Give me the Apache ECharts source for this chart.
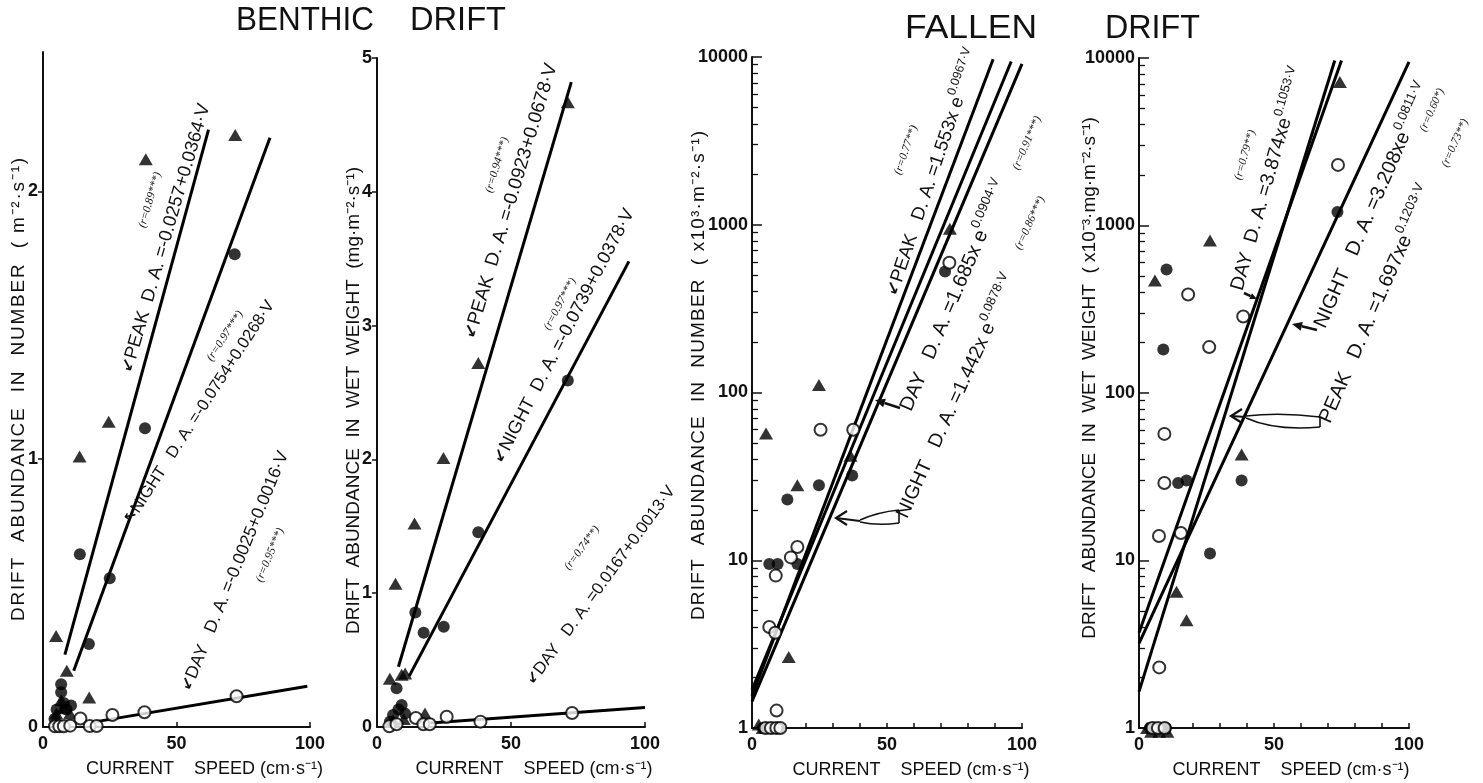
<!DOCTYPE html>
<html><head><meta charset="utf-8"><title>Benthic and fallen drift vs current speed</title>
<script src="https://cdn.jsdelivr.net/npm/echarts@6/dist/echarts.min.js"></script>
<style>html,body{margin:0;padding:0;background:#fff}#chart{width:1483px;height:783px}</style>
</head><body><div id="chart"></div>
<script>
// ================= DATA =================
const speedTicks = [0, 50, 100];
const numTicks = [0, 1, 2];
const wtTicks = [0, 1, 2, 3, 4, 5];
const logTicks = [1, 10, 100, 1000, 10000];

// Panel 1 - benthic drift, abundance in number (m-2 s-1); [speed, abundance]
const bnPeak  = [[38.5,2.12],[72,2.21],[24.6,1.14],[13.7,1.01],[4.9,0.34],[8.9,0.21],[17.3,0.11],[6.8,0.10],[5.0,0.05],[10.1,0.05],[7.5,0.07]];
const bnNight = [[71.8,1.765],[38.2,1.115],[13.8,0.645],[25.0,0.555],[17.2,0.31],[6.8,0.16],[6.8,0.13],[5.1,0.065],[8.8,0.065],[10.5,0.08],[4.3,0.03],[7.8,0.09]];
const bnDay   = [[72.5,0.115],[38,0.055],[26,0.045],[14,0.032],[17.5,0.004],[20.1,0.004],[4.5,0.003],[6.1,0.003],[7.8,0.003],[10.2,0.005]];
const bnPeakFit  = [[8.2,0.27],[62,2.23]];
const bnNightFit = [[11.5,0.21],[85,2.20]];
const bnDayFit   = [[20,0.02],[99,0.152]];

// Panel 2 - benthic drift, abundance in wet weight (mg m-2 s-1)
const bwPeak  = [[71.2,4.67],[37.8,2.72],[24.8,2.01],[14,1.52],[6.9,1.07],[4.8,0.36],[9.2,0.39],[10.5,0.40],[17.9,0.10],[10,0.06],[6,0.05]];
const bwNight = [[71.2,2.59],[37.8,1.455],[24.9,0.75],[14.3,0.855],[17.4,0.705],[7.3,0.29],[9.2,0.164],[8.0,0.13],[6.0,0.09],[4.8,0.04],[10.5,0.1]];
const bwDay   = [[72.8,0.105],[38.6,0.04],[26,0.077],[14.5,0.067],[17.3,0.02],[19.7,0.02],[4.6,0.005],[7.3,0.02]];
const bwPeakFit  = [[8,0.45],[72.5,4.82]];
const bwNightFit = [[12,0.38],[94,3.48]];
const bwDayFit   = [[20,0.03],[100,0.145]];

// Panel 3 - fallen drift, abundance in number (x10^3 m-2 s-1), log scale
const fnPeak  = [[73.3,946],[24.8,111],[36.5,42],[16.8,28],[5.2,57],[13.6,2.65],[2.5,1.05],[4,1.0],[5.5,1.0],[7,1.0]];
const fnNight = [[71.5,527],[37.1,32],[24.8,28],[13.1,23],[16.8,9.5],[6.4,9.5],[9.5,9.5],[4,1.0],[6,1.0],[8,1.0],[10,1.0]];
const fnDay   = [[73.1,594],[37.5,60],[25.4,60],[16.8,12],[14.4,10.4],[8.8,8.1],[6.4,4.0],[8.6,3.7],[9.1,1.27],[5,1.0],[7,1.0],[9,1.0],[10.5,1.0]];
const fnPeakFit  = [[0,1.55],[89.3,9700]];
const fnDayFit   = [[0,1.69],[96,9400]];
const fnNightFit = [[0,1.44],[100,9100]];

// Panel 4 - fallen drift, abundance in wet weight (x10^-3 mg m-2 s-1), log scale
const fwPeak  = [[74.4,7190],[26.3,813],[5.9,470],[38,43],[13.9,6.5],[17.6,4.4],[3,1.0],[4.5,0.95],[6,1.0],[7.5,0.95],[9,1.0],[10.5,0.95]];
const fwNight = [[73.5,1205],[10.2,546],[9.0,182],[14.5,29],[17.6,30],[26.3,11],[38,30],[4,1.0],[6,1.0],[8.5,1.0],[10,1.0]];
const fwDay   = [[73.7,2300],[38.6,286],[18.2,387],[26,188],[9.4,57],[9.4,29],[7.4,14],[15.5,14.6],[7.5,2.3],[5,1.0],[7,1.0],[9.5,1.0]];
const fwPeakFit  = [[0,1.65],[72.5,9660]];
const fwDayFit   = [[0,3.7],[75,9660]];
const fwNightFit = [[0,3.2],[100,9470]];

// ================= TEXT =================
const titles = ['BENTHIC', 'DRIFT', 'FALLEN', 'DRIFT'];
const xName = 'CURRENT    SPEED (cm·s⁻¹)';
const yNames = [
  'DRIFT  ABUNDANCE  IN  NUMBER  ( m⁻²·s⁻¹)',
  'DRIFT  ABUNDANCE  IN  WET  WEIGHT  (mg·m⁻²·s⁻¹)',
  'DRIFT  ABUNDANCE  IN  NUMBER  ( x10³·m⁻²·s⁻¹)',
  'DRIFT  ABUNDANCE  IN  WET  WEIGHT  ( x10⁻³·mg·m⁻²·s⁻¹)'
];
const yNameSpacing = [1.8, 0, 1.2, 0];   // extra px between letters
const yNameShift = [0, -8, 17, 15];      // px along the axis (positive = up)
const yNameGap = [15, 14, 44, 40];

// ================= LAYOUT / STYLE =================
const FONT = "'Liberation Sans', Arial, sans-serif";
const EQFONT = "'Liberation Sans', Arial, sans-serif";
const RFONT = "'Liberation Serif', 'Times New Roman', serif";
const ARROWFONT = "'DejaVu Sans', sans-serif";
const BLACK = '#111';

const grids = [
  {left:43,  top:52, width:267, height:675},
  {left:377, top:58, width:268, height:669},
  {left:752, top:57, width:270, height:671},
  {left:1139,top:58, width:270, height:670}
].map(g => Object.assign({outerBoundsMode:'none', containLabel:false}, g));

function spacedRich(t){ return Array.from(t).map(ch => '{c|' + ch + '}').join(''); }

const xShift = [28, 23, 24, 17];
function xAx(k, every10){
  return {type:'value', gridIndex:k, min:0, max:100, interval: every10 ? 10 : 50,
    axisLine:{show:true, onZero:false, lineStyle:{color:BLACK, width:2}},
    axisTick: every10 ? {show:true, inside:true, length:5, lineStyle:{color:BLACK, width:1.5}}
                      : {show:true, inside:true, length:5, customValues:[50,100], lineStyle:{color:BLACK, width:1.5}},
    axisLabel:{show:true, customValues:speedTicks, formatter:v => speedTicks.indexOf(v) >= 0 ? String(v) : '',
      color:BLACK, fontSize:18, fontWeight:'bold', fontFamily:FONT, margin:8},
    splitLine:{show:false},
    name:xName, nameLocation:'middle', nameGap:33, nameMoveOverlap:false,
    nameTextStyle:{color:BLACK, fontSize:18, fontFamily:FONT, padding:[0,0,0,xShift[k]*2]}
  };
}
function namePad(shift){ return shift >= 0 ? [0,0,0,2*shift] : [0,-2*shift,0,0]; }
function yName(k){
  const sp = yNameSpacing[k];
  return {
    name: sp > 0 ? spacedRich(yNames[k]) : yNames[k],
    nameLocation:'middle', nameRotate:90, nameGap:yNameGap[k], nameMoveOverlap:false,
    nameTextStyle:{color:BLACK, fontSize:19, fontFamily:FONT, padding:namePad(yNameShift[k]),
      rich:{c:{color:BLACK, fontSize:19, fontFamily:FONT, padding:[0, sp/2, 0, sp/2]}}}
  };
}
function yLin(k, max, ticks){
  return Object.assign({type:'value', gridIndex:k, min:0, max:max, interval:1,
    axisLine:{show:true, onZero:false, lineStyle:{color:BLACK, width:2}},
    axisTick:{show:true, inside:false, length:5, customValues:ticks.filter(t => t > 0), lineStyle:{color:BLACK, width:1.5}},
    axisLabel:{show:true, customValues:ticks, formatter:v => ticks.indexOf(v) >= 0 ? String(v) : '',
      color:BLACK, fontSize:18, fontWeight:'bold', fontFamily:FONT, margin:5},
    splitLine:{show:false}}, yName(k));
}
function yLog(k){
  return Object.assign({type:'log', logBase:10, gridIndex:k, min:1, max:10000,
    axisLine:{show:true, onZero:false, lineStyle:{color:BLACK, width:2}},
    axisTick:{show:true, inside:true, length:10, lineStyle:{color:BLACK, width:1.5}},
    minorTick:{show:true, splitNumber:9, length:6, lineStyle:{color:BLACK, width:1.3}},
    axisLabel:{show:true, formatter:v => logTicks.indexOf(Math.round(v)) >= 0 ? String(Math.round(v)) : '',
      color:BLACK, fontSize:18, fontWeight:'bold', fontFamily:FONT, margin:4},
    splitLine:{show:false}}, yName(k));
}

const TRI  = {symbol:'triangle', symbolSize:[14,12], itemStyle:{color:'#000'}};
const DOT  = {symbol:'circle', symbolSize:12, itemStyle:{color:'#000'}};
const RING = {symbol:'circle', symbolSize:12, itemStyle:{color:'#fff', borderColor:'#000', borderWidth:2}};
function sc(name, data, k, st){
  return Object.assign({type:'scatter', name:name, data:data, xAxisIndex:k, yAxisIndex:k, clip:false, z:5, silent:true}, st);
}
function fit(name, data, k){
  return {type:'line', name:name, data:data, xAxisIndex:k, yAxisIndex:k, symbol:'none', clip:false, z:3, silent:true,
    lineStyle:{color:'#000', width:3}};
}

// ---- text measurement helper
const ctx = document.createElement('canvas').getContext('2d');
function meas(t, fam, w, st){ ctx.font = (st||'normal') + ' ' + (w||'normal') + ' 100px ' + fam; return ctx.measureText(t).width / 100; }

// ---- annotations (pixel layout): start p, end q
const eqs = [
  {p:[127,372], q:[205,104], arrow:'↙', main:'PEAK  D. A. =-0.0257+0.0364·V', r:'(r=0.89***)', rp:[150,200]},
  {p:[128,522], q:[271,302], arrow:'↖', main:'NIGHT   D. A. =-0.0754+0.0268·V', r:'(r=0.97***)', rp:[225,336]},
  {p:[186,690], q:[284,452], arrow:'↙', main:'DAY   D. A. =-0.0025+0.0016·V', r:'(r=0.95***)', rp:[270,555]},
  {p:[470,338], q:[552,64],  arrow:'↙', main:'PEAK  D. A. =-0.0923+0.0678·V', r:'(r=0.94***)', rp:[497,165]},
  {p:[498,462], q:[630,210], arrow:'↙', main:'NIGHT  D. A. =-0.0739+0.0378·V', r:'(r=0.97***)', rp:[560,304]},
  {p:[530,683], q:[672,488], arrow:'↙', main:'DAY   D. A. =0.0167+0.0013·V', r:'(r=0.74**)', rp:[582,548]},
  {p:[892,295], q:[975,50],  arrow:'↙', main:'PEAK   D. A. =1.553x e', sup:'0.0967·V', r:'(r=0.77**)', rp:[906,150]},
  {p:[906,410], q:[1008,172], main:'DAY   D. A. =1.685x e', sup:'0.0904·V', r:'(r=0.91***)', rp:[1027,143]},
  {p:[902,517], q:[1012,276], main:'NIGHT   D. A. =1.442x e', sup:'0.0878·V', r:'(r=0.86***)', rp:[1030,223]},
  {p:[1237,290], q:[1300,68], main:'DAY  D. A. =3.874xe', sup:'0.1053·V', r:'(r=0.79**)', rp:[1245,155]},
  {p:[1320,327], q:[1427,83], main:'NIGHT   D. A. =3.208xe', sup:'0.0811·V', r:'(r=0.60*)', rp:[1432,110]},
  {p:[1325,422], q:[1430,183], main:'PEAK   D. A. =1.697xe', sup:'0.1203·V', r:'(r=0.73**)', rp:[1455,143]}
];

function eqEls(a){
  const dx = a.q[0]-a.p[0], dy = a.p[1]-a.q[1];
  const len = Math.hypot(dx, dy), ang = Math.atan2(dy, dx);
  const segs = [];
  if (a.arrow) segs.push({t:a.arrow, fam:ARROWFONT, w:'bold', rel:0.9});
  segs.push({t:a.main, fam:EQFONT, w:'normal', rel:1});
  if (a.sup) segs.push({t:a.sup, fam:EQFONT, w:'normal', rel:0.66, sup:true});
  let unit = 0; segs.forEach(s => unit += s.rel * meas(s.t, s.fam, s.w));
  let f = Math.max(12, Math.min(20, len / unit));
  const rich = {}; let text = '';
  segs.forEach((s, i) => {
    const st = {fontSize: f*s.rel, fontFamily:s.fam, fontWeight:s.w, fill:BLACK};
    if (s.sup) st.verticalAlign = 'top'; else st.lineHeight = Math.round(f*1.5);
    rich['s'+i] = st; text += '{s'+i+'|'+s.t+'}';
  });
  return [
    {type:'text', x:a.p[0], y:a.p[1], rotation:ang, silent:true, z:100,
      style:{text:text, rich:rich, align:'left', verticalAlign:'middle', fill:BLACK, fontSize:f, fontFamily:EQFONT}},
    {type:'text', x:a.rp[0], y:a.rp[1], rotation:ang, silent:true, z:100,
      style:{text:a.r, align:'center', verticalAlign:'middle', fill:BLACK, fontSize:11.5, fontStyle:'italic', fontFamily:RFONT}}
  ];
}

function arrowEls(x1, y1, x2, y2, head){
  const dx = x2-x1, dy = y2-y1, L = Math.hypot(dx, dy), ux = dx/L, uy = dy/L;
  const bx = x2-ux*head, by = y2-uy*head, nx = -uy, ny = ux, hw = head*0.45;
  return [
    {type:'line', silent:true, z:100, shape:{x1:x1, y1:y1, x2:bx, y2:by}, style:{stroke:BLACK, lineWidth:2.5}},
    {type:'polygon', silent:true, z:100, shape:{points:[[x2,y2],[bx+nx*hw,by+ny*hw],[bx-nx*hw,by-ny*hw]]}, style:{fill:BLACK}}
  ];
}
function hollowArrow(tip, shaftEnd, upper, lower, tailTop, tailBot){
  const S = {stroke:BLACK, lineWidth:1.6, fill:null};
  return [
    {type:'line', silent:true, z:100, shape:{x1:tip[0], y1:tip[1], x2:shaftEnd[0], y2:shaftEnd[1]}, style:{stroke:BLACK, lineWidth:2.2}},
    {type:'polyline', silent:true, z:100, shape:{points:[[tip[0]+11,tip[1]-7],[tip[0],tip[1]],[tip[0]+11,tip[1]+7]]}, style:{stroke:BLACK, lineWidth:2.2, fill:null}},
    {type:'bezierCurve', silent:true, z:100, shape:{x1:shaftEnd[0], y1:shaftEnd[1]-1, cpx1:upper[0], cpy1:upper[1], x2:tailTop[0], y2:tailTop[1]}, style:S},
    {type:'bezierCurve', silent:true, z:100, shape:{x1:shaftEnd[0], y1:shaftEnd[1]+1, cpx1:lower[0], cpy1:lower[1], x2:tailBot[0], y2:tailBot[1]}, style:S},
    {type:'line', silent:true, z:100, shape:{x1:tailTop[0], y1:tailTop[1], x2:tailBot[0], y2:tailBot[1]}, style:{stroke:BLACK, lineWidth:1.6}}
  ];
}

function titleEl(t, x0, x1, capTop){
  const f = 34, w = meas(t, FONT, 'normal') * f;
  return {type:'text', x:x0, y:capTop-6, scaleX:(x1-x0)/w, silent:true,
    style:{text:t, fontSize:f, fontFamily:FONT, fill:BLACK, align:'left', verticalAlign:'top'}};
}

let graphics = [
  titleEl(titles[0], 236, 374, 10), titleEl(titles[1], 410, 506, 10),
  titleEl(titles[2], 905, 1037, 18), titleEl(titles[3], 1105, 1200, 18)
];
eqs.forEach(a => graphics = graphics.concat(eqEls(a)));
graphics = graphics
  .concat(arrowEls(900, 408, 875, 400, 10))      // panel 3 DAY
  .concat(arrowEls(1317, 330, 1292, 324, 10))    // panel 4 NIGHT
  .concat(arrowEls(1244, 293, 1257, 299, 7))     // panel 4 DAY
  .concat(hollowArrow([836,518], [860,521], [878,512], [878,526], [899,510], [899,523]))      // panel 3 NIGHT
  .concat(hollowArrow([1231,416], [1246,417], [1280,412], [1275,431], [1320,417], [1320,427])); // panel 4 PEAK

const option = {
  animation:false,
  backgroundColor:'#fff',
  textStyle:{fontFamily:FONT},
  grid:grids,
  xAxis:[xAx(0,false), xAx(1,false), xAx(2,true), xAx(3,true)],
  yAxis:[yLin(0, 2.52, numTicks), yLin(1, 5, wtTicks), yLog(2), yLog(3)],
  series:[
    fit('PEAK fit', bnPeakFit, 0), fit('NIGHT fit', bnNightFit, 0), fit('DAY fit', bnDayFit, 0),
    sc('PEAK', bnPeak, 0, TRI), sc('NIGHT', bnNight, 0, DOT), sc('DAY', bnDay, 0, RING),
    fit('PEAK fit', bwPeakFit, 1), fit('NIGHT fit', bwNightFit, 1), fit('DAY fit', bwDayFit, 1),
    sc('PEAK', bwPeak, 1, TRI), sc('NIGHT', bwNight, 1, DOT), sc('DAY', bwDay, 1, RING),
    fit('PEAK fit', fnPeakFit, 2), fit('DAY fit', fnDayFit, 2), fit('NIGHT fit', fnNightFit, 2),
    sc('PEAK', fnPeak, 2, TRI), sc('NIGHT', fnNight, 2, DOT), sc('DAY', fnDay, 2, RING),
    fit('PEAK fit', fwPeakFit, 3), fit('DAY fit', fwDayFit, 3), fit('NIGHT fit', fwNightFit, 3),
    sc('PEAK', fwPeak, 3, TRI), sc('NIGHT', fwNight, 3, DOT), sc('DAY', fwDay, 3, RING)
  ],
  graphic:graphics
};
const chart = echarts.init(document.getElementById('chart'), null, {renderer:'canvas'});
chart.setOption(option);
</script>
</body></html>
